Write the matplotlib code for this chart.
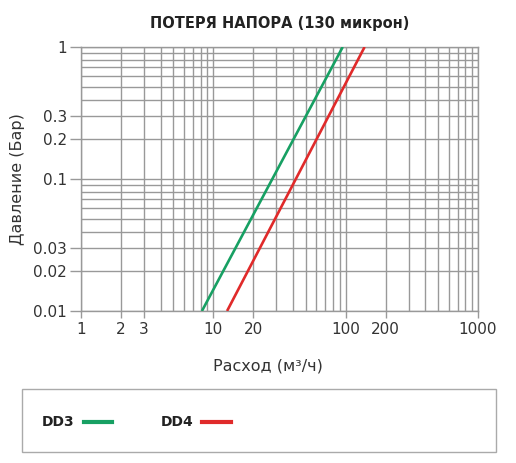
import matplotlib
matplotlib.use("Agg")
import matplotlib.pyplot as plt
from matplotlib.patches import Rectangle
from matplotlib.lines import Line2D
from matplotlib.ticker import FixedLocator, FixedFormatter, LogLocator, NullFormatter

# Data
series_names = ["DD3", "DD4"]
dd3_flow = [8.2, 95]
dd3_pressure = [0.01, 1.0]
dd4_flow = [12.7, 139]
dd4_pressure = [0.01, 1.0]
x_ticks = [1, 2, 3, 10, 20, 100, 200, 1000]
x_tick_labels = ["1", "2", "3", "10", "20", "100", "200", "1000"]
y_ticks = [0.01, 0.02, 0.03, 0.1, 0.2, 0.3, 1]
y_tick_labels = ["0.01", "0.02", "0.03", "0.1", "0.2", "0.3", "1"]
colors = ["#17a063", "#e02a2a"]

plt.rcParams['font.family'] = ['DejaVu Sans']
text_color = "#333333"
grid_color = "#999999"

fig = plt.figure(figsize=(5.16, 4.63), dpi=100)
ax = fig.add_axes([81/516, 1-311/463, (478-81)/516, (311-47)/463])
ax.set_xscale("log")
ax.set_yscale("log")
ax.set_xlim(1, 1000)
ax.set_ylim(0.01, 1)

ax.plot(dd3_flow, dd3_pressure, color=colors[0], lw=1.9, zorder=3, solid_capstyle="butt")
ax.plot(dd4_flow, dd4_pressure, color=colors[1], lw=1.9, zorder=3, solid_capstyle="butt")

ax.xaxis.set_major_locator(FixedLocator(x_ticks))
ax.xaxis.set_major_formatter(FixedFormatter(x_tick_labels))
ax.yaxis.set_major_locator(FixedLocator(y_ticks))
ax.yaxis.set_major_formatter(FixedFormatter(y_tick_labels))
ax.xaxis.set_minor_locator(LogLocator(base=10, subs=range(1, 10)))
ax.yaxis.set_minor_locator(LogLocator(base=10, subs=range(1, 10)))
ax.xaxis.set_minor_formatter(NullFormatter())
ax.yaxis.set_minor_formatter(NullFormatter())
ax.grid(True, which="both", color=grid_color, lw=1.0)
ax.set_axisbelow(True)
ax.tick_params(axis="y", which="major", length=8, width=1, color=grid_color, labelsize=11, labelcolor=text_color, pad=2)
ax.tick_params(axis="x", which="major", length=5, width=1, color=grid_color, labelsize=11, labelcolor=text_color, pad=3)
ax.tick_params(which="minor", length=0)
for s in ax.spines.values():
    s.set_color(grid_color)
    s.set_linewidth(1)

ax.set_title("ПОТЕРЯ НАПОРА (130 микрон)", fontsize=10.5, fontweight="bold", color="#222222", pad=14)
ax.set_ylabel("Давление (Бар)", fontsize=11.5, color=text_color, labelpad=6)
fig.text(268/516, 1-366/463, "Расход (м³/ч)", fontsize=11.5, color=text_color, ha="center", va="center")

# Legend box
fig.patches.append(Rectangle((22/516, 1-452/463), (496-22)/516, (452-389)/463,
                             transform=fig.transFigure, fill=False, edgecolor="#aaaaaa", lw=1))
ly = 1-422/463
fig.text(42/516, ly, series_names[0], fontsize=10, fontweight="bold", color="#222222", va="center")
fig.add_artist(Line2D([84/516, 112/516], [ly, ly], color=colors[0], lw=3, transform=fig.transFigure))
fig.text(161/516, ly, series_names[1], fontsize=10, fontweight="bold", color="#222222", va="center")
fig.add_artist(Line2D([202/516, 231/516], [ly, ly], color=colors[1], lw=3, transform=fig.transFigure))

fig.savefig("out.png", dpi=100)
